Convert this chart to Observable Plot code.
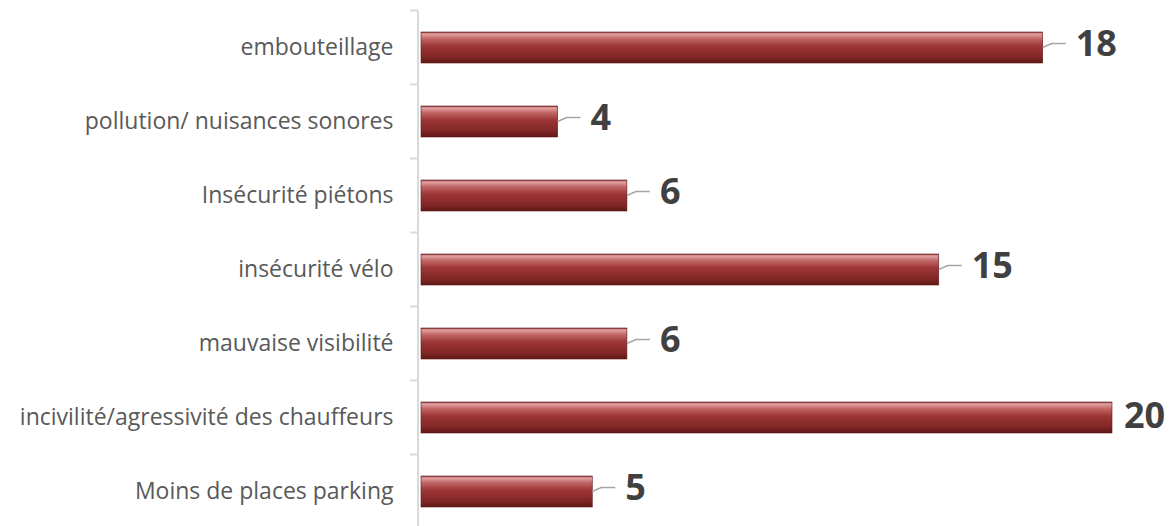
<!DOCTYPE html>
<html>
<head>
<meta charset="utf-8">
<script src="https://cdn.jsdelivr.net/npm/d3@7"></script>
<script src="https://cdn.jsdelivr.net/npm/@observablehq/plot@0.6"></script>
<style>
  html, body { margin: 0; padding: 0; background: #fff; }
  #chart { width: 1174px; height: 526px; overflow: hidden; }
</style>
</head>
<body>
<div id="chart"></div>
<script>
const categories = [
  "embouteillage",
  "pollution/ nuisances sonores",
  "Insécurité piétons",
  "insécurité vélo",
  "mauvaise visibilité",
  "incivilité/agressivité des chauffeurs",
  "Moins de places parking"
];
const values = [18, 4, 6, 15, 6, 20, 5];

const data = categories.map((c, i) => ({cat: c, v: values[i]}));

const W = 1174;
const LABEL_W = 44;          // approx width of a 2-digit value label

function bandInfo(y) {
  const bw = y.bandwidth ? y.bandwidth() : 0;
  const st = y.step ? y.step() : bw;
  return {bw, st};
}

// axis line + ticks at band boundaries
const axisMark = (index, scales) => {
  const y = scales.y, x = scales.x;
  const {bw, st} = bandInfo(y);
  const g = d3.create("svg:g").attr("stroke", "#d9d9d9").attr("stroke-width", 2).attr("fill", "none");
  const x0 = x(0) - 1;
  const tops = categories.map(c => y(c) - (st - bw) / 2);
  const bottom = y(categories[categories.length - 1]) + bw + (st - bw) / 2;
  g.append("line").attr("x1", x0).attr("x2", x0).attr("y1", tops[0]).attr("y2", bottom);
  for (const t of tops.concat([bottom])) {
    g.append("line").attr("x1", x0 - 8).attr("x2", x0).attr("y1", t).attr("y2", t);
  }
  return g.node();
};

// value labels, with leader lines when there is room to offset them
const valueMark = (index, scales) => {
  const y = scales.y, x = scales.x;
  const {bw} = bandInfo(y);
  const g = d3.create("svg:g");
  for (const d of data) {
    const xe = x(d.v), yc = y(d.cat) + bw / 2;
    const room = W - (xe + 33) >= LABEL_W;
    if (room) {
      g.append("path")
        .attr("d", `M${xe},${yc}L${xe + 9},${yc - 4}L${xe + 23},${yc - 4}`)
        .attr("stroke", "#a6a6a6").attr("stroke-width", 1.5).attr("fill", "none");
    }
    g.append("text")
      .attr("x", room ? xe + 33 : xe + 12)
      .attr("y", room ? yc - 4 : yc - 2)
      .attr("dy", "0.36em")
      .attr("text-anchor", "start")
      .attr("font-size", 36).attr("font-weight", "bold")
      .attr("fill", "#404040")
      .text(String(d.v));
  }
  return g.node();
};

const plot = Plot.plot({
  width: W,
  height: 526,
  marginLeft: 419,
  marginRight: 62,
  marginTop: 10,
  marginBottom: -4,
  style: {fontFamily: "'Open Sans', sans-serif", background: "#fff", overflow: "visible"},
  x: {domain: [0, 20], axis: null},
  y: {domain: categories, paddingInner: 0.58, paddingOuter: 0.29, axis: null},
  marks: [
    axisMark,
    Plot.barX(data, {
      y: "cat", x: "v", insetLeft: 2,
      fill: "url(#barGrad)", stroke: "#5e1717", strokeWidth: 0.6,
      style: "filter:url(#barShadow)"
    }),
    Plot.text(data, {
      y: "cat", text: "cat", x: 0,
      textAnchor: "end", dx: -26, fontSize: 23, fill: "#595959"
    }),
    valueMark
  ]
});

// gradient & shadow defs
const svg = d3.select(plot);
const defs = svg.insert("defs", ":first-child");
const grad = defs.append("linearGradient").attr("id", "barGrad")
  .attr("x1", 0).attr("y1", 0).attr("x2", 0).attr("y2", 1);
[["0%", "#8a3333"], ["6%", "#e3a3a3"], ["22%", "#c06464"], ["45%", "#9d3636"], ["80%", "#822626"], ["100%", "#611818"]]
  .forEach(([o, c]) => grad.append("stop").attr("offset", o).attr("stop-color", c));
const f = defs.append("filter").attr("id", "barShadow")
  .attr("x", "-5%").attr("y", "-30%").attr("width", "110%").attr("height", "180%");
f.append("feDropShadow").attr("dx", 0).attr("dy", 4).attr("stdDeviation", 2.5)
  .attr("flood-color", "#000").attr("flood-opacity", 0.35);

document.getElementById("chart").appendChild(plot);
</script>
</body>
</html>
